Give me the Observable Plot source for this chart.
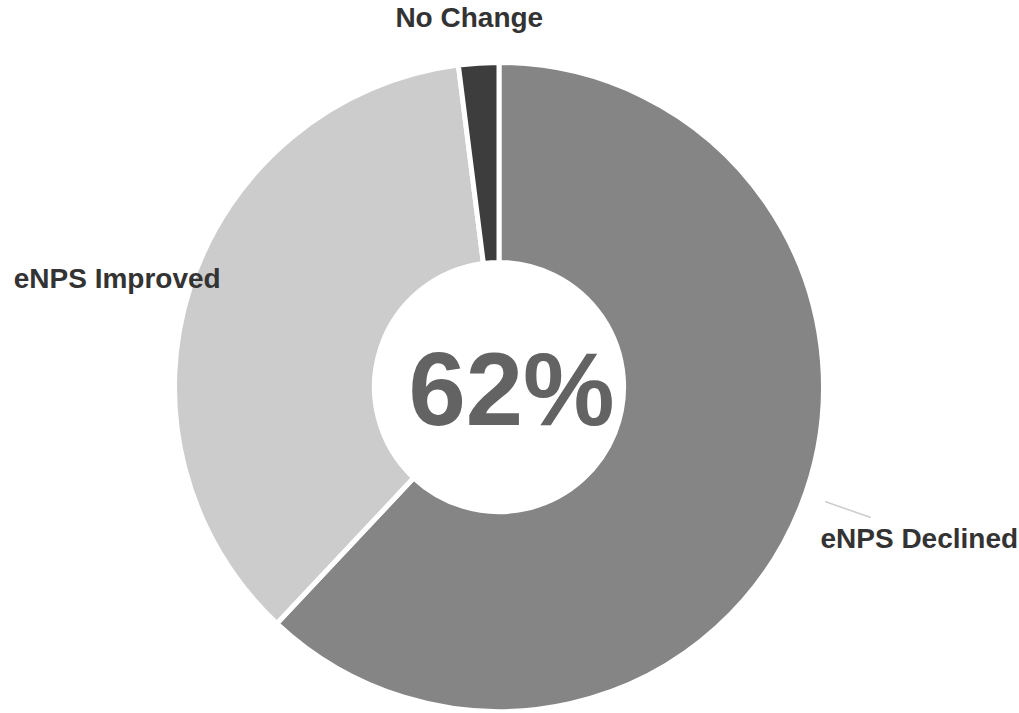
<!DOCTYPE html>
<html>
<head>
<meta charset="utf-8">
<script src="https://cdn.jsdelivr.net/npm/d3@7"></script>
<script src="https://cdn.jsdelivr.net/npm/@observablehq/plot@0.6"></script>
<style>
  html, body { margin: 0; padding: 0; background: #ffffff; }
  #chart svg { display: block; }
</style>
</head>
<body>
<div id="chart"></div>
<script>
// ---- data ----
const categories = ["eNPS Declined", "eNPS Improved", "No Change"];
const shares = [62, 36, 2];
const colors = ["#858585", "#cccccc", "#3d3d3d"];
const centerLabel = "62%";

const data = categories.map((c, i) => ({category: c, value: shares[i], color: colors[i]}));

// pie layout from data (clockwise from 12 o'clock)
const pie = d3.pie().value(d => d.value).sort(null)(data);
const INNER = 0.384;   // inner radius as fraction of outer
const LABEL_R = 1.14;
pie.forEach(p => { p.mid = (p.startAngle + p.endAngle) / 2; });

const labelOffsets = {
  "eNPS Declined": {dx: -23, dy: 15, anchor: "start"},
  "eNPS Improved": {dx: 73, dy: 6, anchor: "end"},
  "No Change": {dx: -7, dy: 0, anchor: "middle"}
};

const labels = pie.map(p => ({
  category: p.data.category,
  x: Math.sin(p.mid) * LABEL_R,
  y: Math.cos(p.mid) * LABEL_R
}));

const leader = pie.filter(p => p.data.category === "eNPS Declined").flatMap(p => {
  const a = p.mid - 0.04;
  return [
    {x: Math.sin(a) * 1.065, y: Math.cos(a) * 1.065},
    {x: Math.sin(a) * 1.21, y: Math.cos(a) * 1.21}
  ];
});

function donut(index, scales) {
  const sx = scales.x, sy = scales.y;
  const cx = sx(0), cy = sy(0);
  const R = Math.abs(sx(1) - sx(0));
  const arc = d3.arc().innerRadius(R * INNER).outerRadius(R);
  const g = d3.create("svg:g").attr("transform", `translate(${cx},${cy})`);
  g.selectAll("path").data(pie).join("path")
    .attr("d", arc)
    .attr("fill", d => d.data.color)
    .attr("stroke", "#ffffff")
    .attr("stroke-width", 5)
    .attr("stroke-linejoin", "miter");
  return g.node();
}

const textMarks = categories.map(c => Plot.text(labels.filter(d => d.category === c), {
  x: "x", y: "y", text: "category",
  textAnchor: labelOffsets[c].anchor,
  dx: labelOffsets[c].dx, dy: labelOffsets[c].dy,
  fontSize: 28, fontWeight: "bold", fill: "#333333",
  fontFamily: "Liberation Sans, Arial, sans-serif"
}));

const chart = Plot.plot({
  width: 1019,
  height: 713,
  margin: 0,
  x: {domain: [-1, 1], range: [174.5, 823.5], axis: null},
  y: {domain: [-1, 1], range: [711.5, 62.5], axis: null},
  style: {background: "#ffffff", fontFamily: "Liberation Sans, Arial, sans-serif"},
  marks: [
    donut,
    Plot.line(leader, {x: "x", y: "y", stroke: "#cccccc", strokeWidth: 1.5}),
    ...textMarks,
    Plot.text([centerLabel], {
      x: () => 0, y: () => 0, text: d => d,
      dx: 12, dy: 5,
      fontSize: 103, fontWeight: "bold", fill: "#636363",
      fontFamily: "Liberation Sans, Arial, sans-serif"
    })
  ]
});
document.getElementById("chart").appendChild(chart);
</script>
</body>
</html>
